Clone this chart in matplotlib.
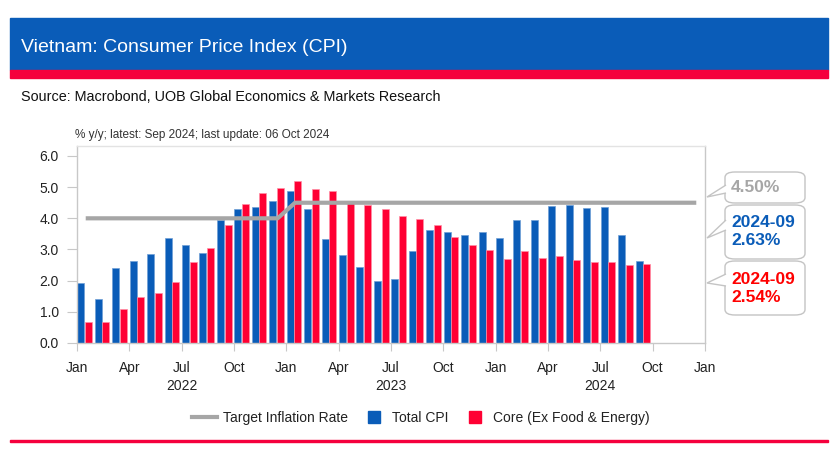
import matplotlib.pyplot as plt
from matplotlib.lines import Line2D
from matplotlib.patches import FancyBboxPatch, Polygon, Rectangle
import numpy as np

plt.rcParams["font.family"] = ["Liberation Sans", "DejaVu Sans"]

# monthly data, Jan 2022 .. Sep 2024
total_cpi = [1.94, 1.42, 2.41, 2.64, 2.86, 3.37, 3.14, 2.89, 3.94, 4.30, 4.37, 4.55,
             4.89, 4.31, 3.35, 2.81, 2.43, 2.00, 2.06, 2.96, 3.64, 3.57, 3.45, 3.57,
             3.37, 3.96, 3.96, 4.40, 4.42, 4.34, 4.36, 3.45, 2.63]
core_cpi = [0.66, 0.67, 1.08, 1.46, 1.60, 1.97, 2.60, 3.04, 3.80, 4.46, 4.81, 4.97,
            5.19, 4.94, 4.87, 4.55, 4.43, 4.31, 4.09, 3.99, 3.78, 3.41, 3.14, 2.97,
            2.70, 2.94, 2.74, 2.79, 2.66, 2.59, 2.59, 2.51, 2.54]
target = [4.0] * 12 + [4.5] * 24  # Jan 2022 .. Dec 2024

month_labels = ["Jan", "Apr", "Jul", "Oct"] * 3 + ["Jan"]
year_labels = {2: "2022", 6: "2023", 10: "2024"}

callouts = [("4.50%", "#a6a6a6"), ("2024-09\n2.63%", "#0a5cb8"), ("2024-09\n2.54%", "#ff0000")]

BLUE = "#0a5cb8"
RED = "#ff0033"
GRAY = "#a6a6a6"
AX_GRAY = "#c8c8c8"

W, H = 836, 453
fig = plt.figure(figsize=(W / 100, H / 100), dpi=100)


def fx(px):
    return px / W


def fy(py):
    return 1 - py / H


# header banner
fig.patches.append(Rectangle((fx(10), fy(70)), fx(818), 52 / H, transform=fig.transFigure,
                             color="#0a5cb8", zorder=0))
fig.patches.append(Rectangle((fx(10), fy(78)), fx(818), 8 / H, transform=fig.transFigure,
                             color="#f5003d", zorder=0))
fig.text(fx(21), fy(47), "Vietnam: Consumer Price Index (CPI)", color="white", fontsize=14,
         va="center", ha="left")
fig.text(fx(21), fy(97), "Source: Macrobond, UOB Global Economics & Markets Research", color="#111111",
         fontsize=10.4, va="center", ha="left")
fig.text(fx(75), fy(135), "% y/y; latest: Sep 2024; last update: 06 Oct 2024", color="#333333",
         fontsize=8.5, va="center", ha="left")
fig.patches.append(Rectangle((fx(10), fy(442)), fx(818), 2 / H, transform=fig.transFigure,
                             color="#f5003d", zorder=0))

ax = fig.add_axes([fx(77), fy(343), fx(705 - 77), (343 - 146) / H])

idx = np.arange(len(total_cpi))
ax.bar(idx + 0.02, total_cpi, width=0.4, align="edge", color=BLUE, edgecolor="#6f9fd6",
       linewidth=0.5, zorder=2)
ax.bar(idx + 0.46, core_cpi, width=0.4, align="edge", color=RED, edgecolor="#ff8fa6",
       linewidth=0.5, zorder=2)
ax.plot(np.arange(len(target)) + 0.5, target, color=GRAY, lw=3, zorder=3,
        solid_capstyle="butt")

ax.set_xlim(0, 36)
ax.set_ylim(0, 6.32)
ax.set_yticks(np.arange(0, 6.01, 1.0))
ax.set_yticklabels([f"{v:.1f}" for v in np.arange(0, 6.01, 1.0)], fontsize=10, color="#222222")
xt = np.arange(0, 37, 3)
ax.set_xticks(xt)
labels = []
for i, m in enumerate(month_labels):
    labels.append(m + ("\n" + year_labels[i] if i in year_labels else ""))
ax.set_xticklabels(labels, fontsize=10, color="#222222", linespacing=1.4, va="top")
ax.tick_params(axis="y", length=7, color=AX_GRAY, pad=6)
ax.tick_params(axis="x", length=6, color=AX_GRAY, pad=7)
for s in ax.spines.values():
    s.set_color(AX_GRAY)
    s.set_linewidth(1)
ax.spines["top"].set_color("#e3e3e3")

# callout boxes on the right
boxes = [(172, 203, 197, 185, 193), (205, 259, 238, 220, 230), (261, 315, 283, 274, 286)]
for (txt, col), (y0, y1, tip, b0, b1) in zip(callouts, boxes):
    fig.patches.append(FancyBboxPatch((fx(725), fy(y1)), fx(80), (y1 - y0) / H,
                                      boxstyle="round,pad=0,rounding_size=0.012",
                                      transform=fig.transFigure, facecolor="white",
                                      edgecolor="#c4c4c4", lw=1, zorder=1))
    fig.patches.append(Polygon([(fx(726), fy(b0)), (fx(707), fy(tip)), (fx(726), fy(b1))],
                               closed=False, transform=fig.transFigure, facecolor="white",
                               edgecolor="#c4c4c4", lw=1, zorder=2))
    fig.text(fx(731), fy((y0 + y1) / 2), txt, color=col, fontsize=12.5, fontweight="bold",
             va="center", ha="left", linespacing=1.25)

handles = [Line2D([], [], color=GRAY, lw=3),
           Line2D([], [], color=BLUE, marker="s", ls="none", markersize=9),
           Line2D([], [], color=RED, marker="s", ls="none", markersize=9)]
fig.legend(handles, ["Target Inflation Rate", "Total CPI", "Core (Ex Food & Energy)"],
           loc="center", bbox_to_anchor=(fx(421), fy(418)), ncol=3, frameon=False,
           fontsize=10, handlelength=1.8, handletextpad=0.4, columnspacing=1.0,
           labelcolor="#222222")

fig.savefig("out.png", dpi=100, facecolor="white")
